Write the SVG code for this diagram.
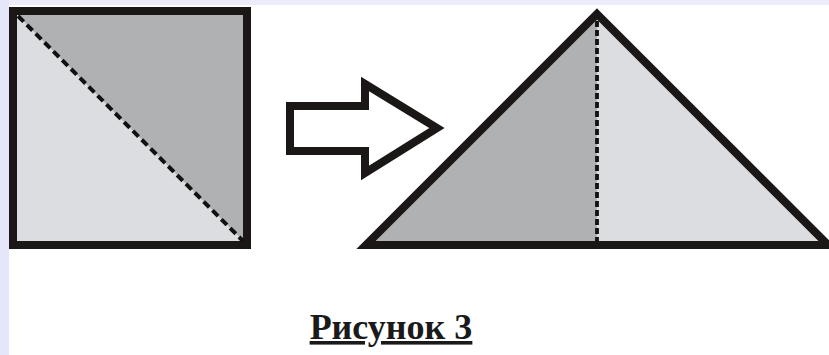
<svg xmlns="http://www.w3.org/2000/svg" width="829" height="355" viewBox="0 0 829 355">
  <style>
    .outline { stroke: #1a1716; stroke-width: 8; stroke-linejoin: miter; stroke-miterlimit: 10; }
    .fold { stroke: #111; stroke-width: 4; fill: none; }
    .diag { stroke-dasharray: 8 4.5; }
    .vert { stroke-dasharray: 6 3; stroke-width: 3.8; }
    .dark { fill: #b0b1b3; }
    .light { fill: #dcdde0; }
    .caption { font-family: "Liberation Serif", "Times New Roman", serif; font-weight: bold; font-size: 36px; fill: #1a1a1a; text-decoration: underline; }
  </style>
  <!-- page background with lavender margin strips -->
  <rect x="0" y="0" width="829" height="355" fill="#ffffff"/>
  <rect x="0" y="0" width="829" height="5" fill="#ebebfb"/>
  <rect x="0" y="0" width="9" height="355" fill="#e6e6fb"/>

  <!-- square sheet, split along the diagonal -->
  <g id="square">
    <polygon class="light" points="13,11 247,245 13,245"/>
    <polygon class="dark" points="13,11 247,11 247,245"/>
    <rect class="outline" x="13" y="11" width="234" height="234" fill="none"/>
    <line class="fold diag" x1="18" y1="16" x2="243" y2="241"/>
  </g>

  <!-- hollow transition arrow -->
  <g id="arrow">
    <polygon class="outline" fill="#ffffff" points="290,106 365,106 365,84 437,128 365,173 365,151 290,151"/>
  </g>

  <!-- folded triangle with its crease -->
  <g id="triangle">
    <polygon class="dark" points="597,14 597,245 366,245"/>
    <polygon class="light" points="597,14 828,245 597,245"/>
    <polygon class="outline" fill="none" points="597,14 828,245 366,245"/>
    <line class="fold vert" x1="597" y1="21" x2="597" y2="241"/>
  </g>

  <g id="label">
    <text class="caption" x="391" y="339" text-anchor="middle">Рисунок 3</text>
  </g>
</svg>
